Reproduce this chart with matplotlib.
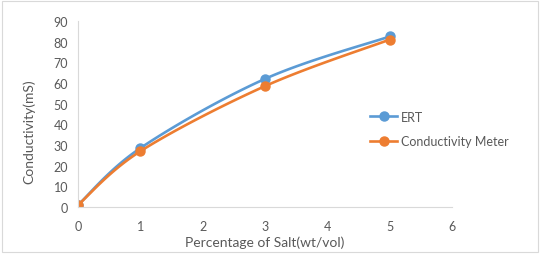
import matplotlib
matplotlib.use("Agg")
import matplotlib.pyplot as plt
import numpy as np

plt.rcParams["font.family"] = ["Lato", "DejaVu Sans"]

salt = [0, 1, 3, 5]
ert = [1, 28.5, 62, 82.5]
meter = [1, 27, 58.5, 81]

BLUE = "#5B9BD5"
ORANGE = "#ED7D31"
GRID = "#D9D9D9"
TEXT = "#595959"


def smooth(xs, ys, n=40):
    """Excel-like smoothed line (Catmull-Rom bezier through the points)."""
    x = np.asarray(xs, float)
    y = np.asarray(ys, float)
    px, py = [], []
    for i in range(len(x) - 1):
        x0, y0 = (x[i - 1], y[i - 1]) if i > 0 else (x[i], y[i])
        x3, y3 = (x[i + 2], y[i + 2]) if i + 2 < len(x) else (x[i + 1], y[i + 1])
        c1 = (x[i] + (x[i + 1] - x0) / 6, y[i] + (y[i + 1] - y0) / 6)
        c2 = (x[i + 1] - (x3 - x[i]) / 6, y[i + 1] - (y3 - y[i]) / 6)
        t = np.linspace(0, 1, n)
        bx = (1 - t) ** 3 * x[i] + 3 * (1 - t) ** 2 * t * c1[0] + 3 * (1 - t) * t ** 2 * c2[0] + t ** 3 * x[i + 1]
        by = (1 - t) ** 3 * y[i] + 3 * (1 - t) ** 2 * t * c1[1] + 3 * (1 - t) * t ** 2 * c2[1] + t ** 3 * y[i + 1]
        px.extend(bx)
        py.extend(by)
    return px, py


fig = plt.figure(figsize=(5.4, 2.55), dpi=100)
ax = fig.add_axes([0.1444, 0.184, 0.693, 0.730])

for ys, color, label in [(ert, BLUE, "ERT"), (meter, ORANGE, "Conductivity Meter")]:
    sx, sy = smooth(salt, ys)
    ax.plot(sx, sy, color=color, lw=1.9, solid_capstyle="round")
    ax.plot(salt, ys, "o", color=color, ms=6.5)
    ax.plot([], [], "-o", color=color, lw=1.9, ms=6.5, label=label)

ax.set_xlim(0, 6)
ax.set_ylim(0, 90)
ax.set_xticks(range(0, 7))
ax.set_yticks(range(0, 91, 10))
for s in ["top", "right"]:
    ax.spines[s].set_visible(False)
for s in ["left", "bottom"]:
    ax.spines[s].set_color(GRID)
    ax.spines[s].set_linewidth(0.8)
ax.tick_params(length=0, colors=TEXT, labelsize=9)
ax.tick_params(axis="x", pad=9.5)
ax.tick_params(axis="y", pad=7)
ax.set_xlabel("Percentage of Salt(wt/vol)", color=TEXT, fontsize=10)
ax.set_ylabel("Conductivity(mS)", color=TEXT, fontsize=10)
ax.xaxis.set_label_coords(0.5, -0.155)
ax.yaxis.set_label_coords(-0.115, 0.41)

ax.legend(loc="center left", bbox_to_anchor=(0.78, 0.42), frameon=False,
          fontsize=9, labelcolor=TEXT, handlelength=2.2, labelspacing=1.0,
          handletextpad=0.3, borderaxespad=0, borderpad=0)

fig.patches.append(plt.Rectangle((0.003, 0.006), 0.994, 0.988, transform=fig.transFigure,
                                 fill=False, edgecolor=GRID, lw=0.8))

fig.savefig("out.png", dpi=100)
